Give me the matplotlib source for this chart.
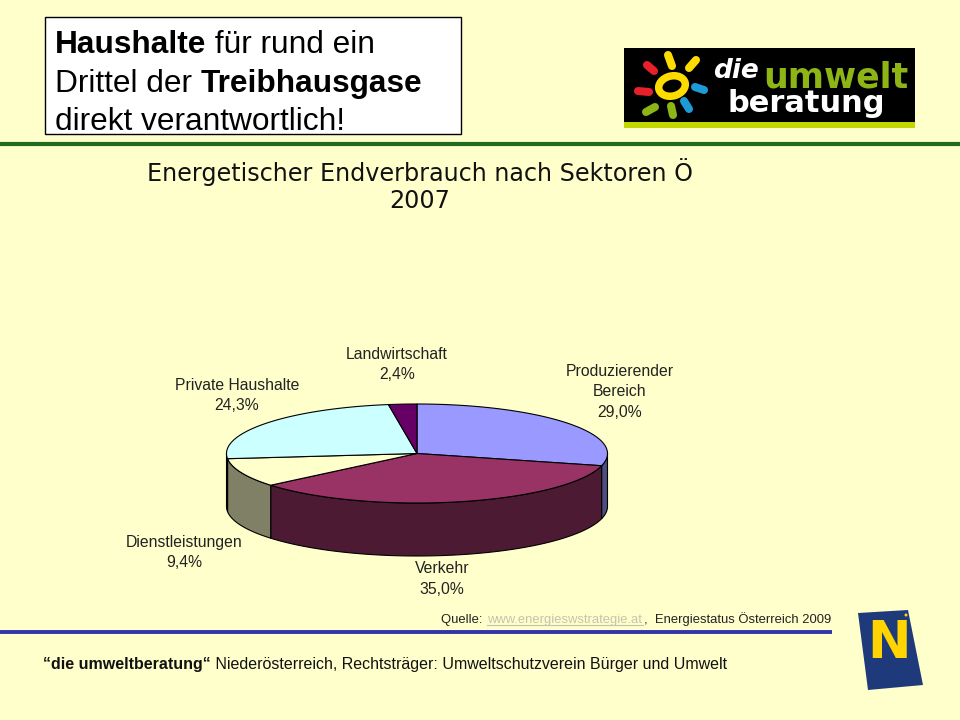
import numpy as np
import matplotlib
matplotlib.use('Agg')
import matplotlib.pyplot as plt
from matplotlib.patches import Rectangle, Polygon, Ellipse

# ---- data ----
sectors = ['Produzierender\nBereich', 'Verkehr', 'Dienstleistungen', 'Private Haushalte', 'Landwirtschaft']
shares = [29.0, 35.0, 9.4, 24.3, 2.4]
share_labels = ['29,0%', '35,0%', '9,4%', '24,3%', '2,4%']
top_colors = ['#9999FF', '#993366', '#FFFFCC', '#CCFFFF', '#660066']
side_colors = ['#4D4D80', '#4D1A33', '#808066', '#668080', '#330033']
label_xy = [(620, 392), (442, 579), (184, 552.5), (237, 395.5), (397, 364.5)]

BG = '#FFFFCC'
fig = plt.figure(figsize=(9.6, 7.2), dpi=100, facecolor=BG)
ax = fig.add_axes([0, 0, 1, 1])
ax.set_xlim(0, 960); ax.set_ylim(720, 0); ax.axis('off')
SANS = 'Liberation Sans'

def runs(x, y, parts, size, color='black'):
    r = fig.canvas.get_renderer()
    for s, w in parts:
        t = ax.text(x, y, s, fontsize=size, fontweight=w, family=SANS, color=color, va='baseline', ha='left', zorder=3)
        # trailing spaces are measured through a stand-in character
        t.set_text(s + '|'); b1 = t.get_window_extent(r).width
        t.set_text('|'); b2 = t.get_window_extent(r).width
        t.set_text(s)
        x += b1 - b2

# header box
ax.add_patch(Rectangle((45, 17), 416, 117, fc='white', ec='black', lw=1, zorder=2))
for art_y, parts in [(53, [('Haushalte', 'bold'), (' für rund ein', 'normal')]),
                     (92, [('Drittel der ', 'normal'), ('Treibhausgase', 'bold')]),
                     (130, [('direkt verantwortlich!', 'normal')])]:
    runs(55, art_y, parts, 22.8)

# rules
ax.plot([0, 960], [144, 144], color='#1F6B1F', lw=3, solid_capstyle='butt')
ax.plot([0, 832], [631.5, 631.5], color='#3333AA', lw=2.8, solid_capstyle='butt')

# chart title
ax.text(420, 172, 'Energetischer Endverbrauch nach Sektoren Ö', family='DejaVu Sans', fontsize=17.2,
        ha='center', va='center', color='#111111')
ax.text(420, 201, '2007', family='DejaVu Sans', fontsize=17.2, ha='center', va='center', color='#111111')

# 3D pie built from the shares
cx, cy, rx, ry, depth = 417, 453.5, 190.5, 49.5, 53
total = sum(shares)
edges = np.concatenate([[0], np.cumsum(shares)]) / total * 2 * np.pi

def arc(a0, a1, n=120):
    t = np.linspace(a0, a1, n)
    return cx + rx * np.sin(t), cy - ry * np.cos(t)

for i in range(len(shares)):
    a0, a1 = max(edges[i], np.pi / 2), min(edges[i + 1], 3 * np.pi / 2)
    if a1 > a0:
        x, y = arc(a0, a1)
        pts = np.r_[np.c_[x, y], np.c_[x[::-1], y[::-1] + depth]]
        ax.add_patch(Polygon(pts, closed=True, fc=side_colors[i], ec='black', lw=0.8, zorder=4))
for i in range(len(shares)):
    x, y = arc(edges[i], edges[i + 1])
    pts = np.r_[[[cx, cy]], np.c_[x, y]]
    ax.add_patch(Polygon(pts, closed=True, fc=top_colors[i], ec='black', lw=0.8, zorder=5))

for name, pct, (lx, ly) in zip(sectors, share_labels, label_xy):
    ax.text(lx, ly, name + '\n' + pct, family=SANS, fontsize=11.3, ha='center', va='center',
            color='#222222', linespacing=1.42)

# source line
runs(441, 623, [('Quelle: ', 'normal')], 9.4, '#222222')
ax.text(487, 623, 'www.energieswstrategie.at', family=SANS, fontsize=9.4, color='#C4C4AE', va='baseline')
ax.plot([487, 643], [625, 625], color='#C4C4AE', lw=0.8)
ax.text(644, 623, ',  Energiestatus Österreich 2009', family=SANS, fontsize=9.4, color='#222222', va='baseline')

# footer
runs(43, 669, [('“die umweltberatung“', 'bold'), (' Niederösterreich, Rechtsträger: Umweltschutzverein Bürger und Umwelt', 'normal')],
     11.55, '#111111')

# logo: die umweltberatung
ax.add_patch(Rectangle((624, 48), 291, 74, fc='black', ec='none'))
ax.add_patch(Rectangle((624, 122), 291, 6, fc='#C4D600', ec='none'))
rays = [((668, 55), (672, 66), '#FFDC00'), ((696, 60), (689, 68), '#FFDC00'),
        ((647, 65), (654, 71), '#E8202A'), ((638, 91), (649, 92), '#E8202A'),
        ((646, 112), (655, 107), '#8DB516'), ((671, 106), (673, 115), '#8DB516'),
        ((684, 101), (689, 109), '#1E9AD6'), ((695, 87), (704, 90), '#1E9AD6')]
for (x0, y0), (x1, y1), c in rays:
    ax.plot([x0, x1], [y0, y1], color=c, lw=5.8, solid_capstyle='round')
ax.add_patch(Ellipse((672, 86), 27, 20, angle=-15, fc='none', ec='#FFDC00', lw=5.4))
ax.text(713, 78, 'die', family='DejaVu Sans', style='italic', fontweight='bold', fontsize=19, color='white', va='baseline')
ax.text(763, 88, 'umwelt', family='DejaVu Sans', fontweight='bold', fontsize=25, color='#8DB516', va='baseline')
ax.text(727, 112, 'beratung', family='DejaVu Sans', fontweight='bold', fontsize=22, color='white', va='baseline')

# logo: N badge
ax.add_patch(Polygon([(858, 613), (908, 610), (923, 685), (868, 690)], closed=True, fc='#1F3A7A', ec='none'))
ax.text(889, 658, 'N', family='DejaVu Sans', fontweight='bold', fontsize=37.5, color='#FFD400', ha='center', va='baseline')
ax.add_patch(Ellipse((906, 615), 3, 3, fc='#FFD400', ec='none'))

fig.savefig('out.png', dpi=100, facecolor=BG)
